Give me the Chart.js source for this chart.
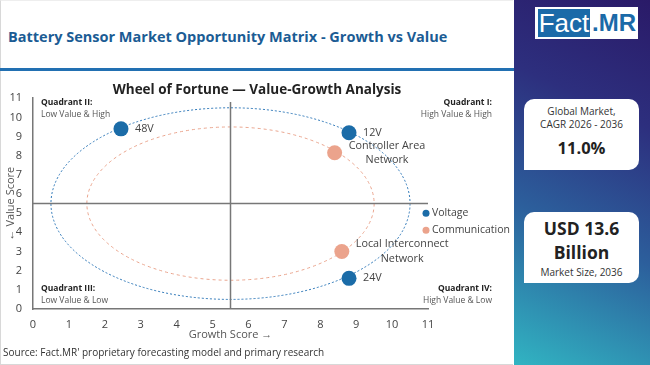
<!DOCTYPE html>
<html lang="en">
<head>
<meta charset="UTF-8">
<title>Battery Sensor Market Opportunity Matrix</title>
<script src="https://cdn.jsdelivr.net/npm/chart.js"></script>
<style>
  html, body { margin: 0; padding: 0; }
  body { width: 650px; height: 365px; position: relative; overflow: hidden; background: #fff; font-family: 'Open Sans', sans-serif; }
  #frame { position: absolute; left: 0; top: 0; width: 512px; height: 363px; border-left: 1px solid #d8d8d8; border-bottom: 1px solid #d8d8d8; border-top: 1px solid #eee; }
  #head { position: absolute; left: 8px; top: 27px; font-weight: 700; font-size: 14.5px; color: #1b5c94; white-space: nowrap; }
  #rule { position: absolute; left: 0; top: 68px; width: 514px; height: 3px; background: #2270b2; }
  #chart-box { position: absolute; left: 0; top: 75px; width: 514px; height: 271px; }
  #source { position: absolute; left: 3px; top: 345px; font-size: 10px; color: #333; white-space: nowrap; }
  #side { position: absolute; left: 514px; top: 0; width: 136px; height: 365px;
          background: linear-gradient(205deg, #2a1a68 0%, #2d2f7e 30%, #2c5f9c 62%, #31b4c2 100%); }
  #logo { position: absolute; left: 21px; top: 7px; width: 103px; height: 32px; background: #fff; }
  #logo .f { position: absolute; left: 3px; top: 2px; width: 52px; height: 28px; background: #1b6aa8; color: #fff;
             font: 26px 'Liberation Sans', Arial, sans-serif; line-height: 28px; text-align: center; }
  #logo .m { position: absolute; left: 57px; top: 2px; height: 28px; color: #1b6aa8;
             font: 700 24px 'Liberation Sans', Arial, sans-serif; line-height: 28px; }
  .card { position: absolute; left: 10px; width: 115px; background: #fff; border-radius: 10px 10px 10px 0; text-align: center; color: #222; }
  #c1 { top: 99px; height: 71px; }
  #c2 { top: 212px; height: 71px; }
  .small { font-size: 10px; color: #333; line-height: 13px; }
  .big { font-weight: 700; }
</style>
</head>
<body>
<div id="frame"></div>
<div id="head">Battery Sensor Market Opportunity Matrix - Growth vs Value</div>
<div id="rule"></div>
<div id="chart-box"><canvas id="matrix"></canvas></div>
<div id="source">Source: Fact.MR' proprietary forecasting model and primary research</div>
<div id="side">
  <div id="logo"><div class="f">Fact</div><div class="m">.MR</div></div>
  <div class="card" id="c1">
    <div class="small" style="padding-top:6px">Global Market,<br>CAGR 2026 - 2036</div>
    <div class="big" style="font-size:16.5px; margin-top:5px">11.0%</div>
  </div>
  <div class="card" id="c2">
    <div class="big" style="font-size:17.5px; line-height:24px; padding-top:4px">USD 13.6<br>Billion</div>
    <div class="small" style="margin-top:2px">Market Size, 2036</div>
  </div>
</div>

<script>
// series
const seriesNames = ['Voltage', 'Communication'];
const seriesColors = ['#1b6ca8', '#eba38c'];

const voltageNames = ['48V', '12V', '24V'];
const voltageGrowth = [2.45, 8.8, 8.8];
const voltageValue = [9.4, 9.2, 1.6];

const commNames = [['Controller Area', 'Network'], ['Local Interconnect', 'Network']];
const commGrowth = [8.4, 8.6];
const commValue = [8.15, 3.0];

// axes
const axisMin = 0;
const axisMax = 11;
const quadrantSplit = 5.5;

// wheel rings: centre + radius in score units
const ringCenter = [5.5, 5.5];
const ringRadii = [5, 4];
const ringColors = ['#2f78b8', '#eaa58e'];
const ringDash = [[2, 2], [3, 3]];

const quadrants = [
    { title: 'Quadrant II:', sub: 'Low Value & High', side: 'left', row: 'top' },
    { title: 'Quadrant I:', sub: 'High Value & High', side: 'right', row: 'top' },
    { title: 'Quadrant III:', sub: 'Low Value & Low', side: 'left', row: 'bottom' },
    { title: 'Quadrant IV:', sub: 'High Value & Low', side: 'right', row: 'bottom' }
];

const FONT = "'Open Sans', sans-serif";
Chart.defaults.font.family = FONT;
Chart.defaults.color = '#444';

const backdrop = {
    id: 'backdrop',
    beforeDatasetsDraw(chart) {
        const { ctx, scales: { x, y } } = chart;
        ctx.save();
        // rings
        ringRadii.forEach((r, i) => {
            const cx = x.getPixelForValue(ringCenter[0]);
            const cy = y.getPixelForValue(ringCenter[1]);
            const rx = x.getPixelForValue(ringCenter[0] + r) - cx;
            const ry = cy - y.getPixelForValue(ringCenter[1] + r);
            ctx.beginPath();
            ctx.setLineDash(ringDash[i]);
            ctx.strokeStyle = ringColors[i];
            ctx.lineWidth = 1;
            ctx.ellipse(cx, cy, rx, ry, 0, 0, Math.PI * 2);
            ctx.stroke();
        });
        // quadrant split lines
        ctx.setLineDash([]);
        ctx.strokeStyle = '#777';
        ctx.lineWidth = 1.5;
        ctx.beginPath();
        ctx.moveTo(x.getPixelForValue(quadrantSplit), y.getPixelForValue(axisMin));
        ctx.lineTo(x.getPixelForValue(quadrantSplit), y.getPixelForValue(10.8));
        ctx.moveTo(x.getPixelForValue(axisMin), y.getPixelForValue(quadrantSplit));
        ctx.lineTo(x.getPixelForValue(axisMax), y.getPixelForValue(quadrantSplit));
        ctx.stroke();
        ctx.restore();
    },
    afterDatasetsDraw(chart) {
        const { ctx, chartArea } = chart;
        ctx.save();
        // point labels
        ctx.font = '10.8px ' + FONT;
        ctx.fillStyle = '#444';
        ctx.textBaseline = 'middle';
        chart.data.datasets.forEach((ds, di) => {
            chart.getDatasetMeta(di).data.forEach((pt, i) => {
                const lines = [].concat(ds.names[i]);
                const w = Math.max(...lines.map(l => ctx.measureText(l).width));
                const left = pt.x + 14;
                const lh = 14.5;
                lines.forEach((l, k) => {
                    const ly = pt.y + (k - (lines.length - 1) / 2) * lh;
                    ctx.textAlign = 'center';
                    ctx.fillText(l, left + w / 2, ly);
                });
            });
        });
        // legend
        seriesNames.forEach((n, i) => {
            const ly = chartArea.top + 115 + i * 17;
            ctx.beginPath();
            ctx.fillStyle = seriesColors[i];
            ctx.arc(chartArea.right - 2, ly, 3.5, 0, Math.PI * 2);
            ctx.fill();
            ctx.fillStyle = '#444';
            ctx.textAlign = 'left';
            ctx.font = '10.5px ' + FONT;
            ctx.fillText(n, chartArea.right + 4, ly);
        });
        // quadrant captions
        quadrants.forEach(q => {
            const qx = q.side === 'left' ? chartArea.left + 8 : chartArea.right + 64;
            const qy = q.row === 'top' ? chartArea.top + 4 : chartArea.bottom - 20;
            ctx.textAlign = q.side === 'left' ? 'left' : 'right';
            ctx.font = 'bold 8.5px ' + FONT;
            ctx.fillStyle = '#222';
            ctx.fillText(q.title, qx, qy);
            ctx.font = '8.5px ' + FONT;
            ctx.fillStyle = '#555';
            ctx.fillText(q.sub, qx, qy + 12);
        });
        ctx.restore();
    }
};

new Chart(document.getElementById('matrix'), {
    type: 'scatter',
    data: {
        datasets: [
            {
                label: seriesNames[0],
                names: voltageNames,
                data: voltageGrowth.map((g, i) => ({ x: g, y: voltageValue[i] })),
                backgroundColor: seriesColors[0],
                borderWidth: 0,
                pointRadius: 7.5,
                pointHoverRadius: 7.5
            },
            {
                label: seriesNames[1],
                names: commNames,
                data: commGrowth.map((g, i) => ({ x: g, y: commValue[i] })),
                backgroundColor: seriesColors[1],
                borderWidth: 0,
                pointRadius: 7.5,
                pointHoverRadius: 7.5
            }
        ]
    },
    options: {
        responsive: true,
        maintainAspectRatio: false,
        animation: false,
        layout: { padding: 0 },
        plugins: {
            legend: { display: false },
            tooltip: { enabled: false },
            title: {
                display: true,
                text: 'Wheel of Fortune \u2014 Value-Growth Analysis',
                color: '#222',
                font: { size: 13.5, weight: 'bold' },
                padding: { top: 7, bottom: 0 }
            }
        },
        scales: {
            x: {
                type: 'linear',
                min: axisMin,
                max: axisMax,
                grid: { display: false, drawTicks: false },
                border: { display: true, color: '#777', width: 1.5 },
                ticks: { stepSize: 1, padding: 9, font: { size: 11 }, color: '#444', maxRotation: 0 },
                title: { display: true, text: 'Growth Score \u2192', color: '#555', font: { size: 11 }, padding: { top: 0, bottom: 4.5 } },
                afterFit(scale) { scale.height = 37; }
            },
            y: {
                type: 'linear',
                min: axisMin,
                max: axisMax,
                grid: { display: false, drawTicks: false },
                border: { display: true, color: '#777', width: 1.5 },
                ticks: { stepSize: 1, padding: 11, font: { size: 11 }, color: '#444' },
                title: { display: true, text: '\u2190 Value Score', color: '#555', font: { size: 11 }, padding: { top: 4, bottom: 0 } },
                afterFit(scale) { scale.width = 33; }
            },
            // empty right-hand gutter that holds the legend and quadrant captions
            gutter: {
                type: 'linear',
                position: 'right',
                min: axisMin,
                max: axisMax,
                grid: { display: false, drawTicks: false },
                border: { display: false },
                ticks: { display: false },
                afterFit(scale) { scale.width = 86; }
            }
        }
    },
    plugins: [backdrop]
});
</script>
</body>
</html>
